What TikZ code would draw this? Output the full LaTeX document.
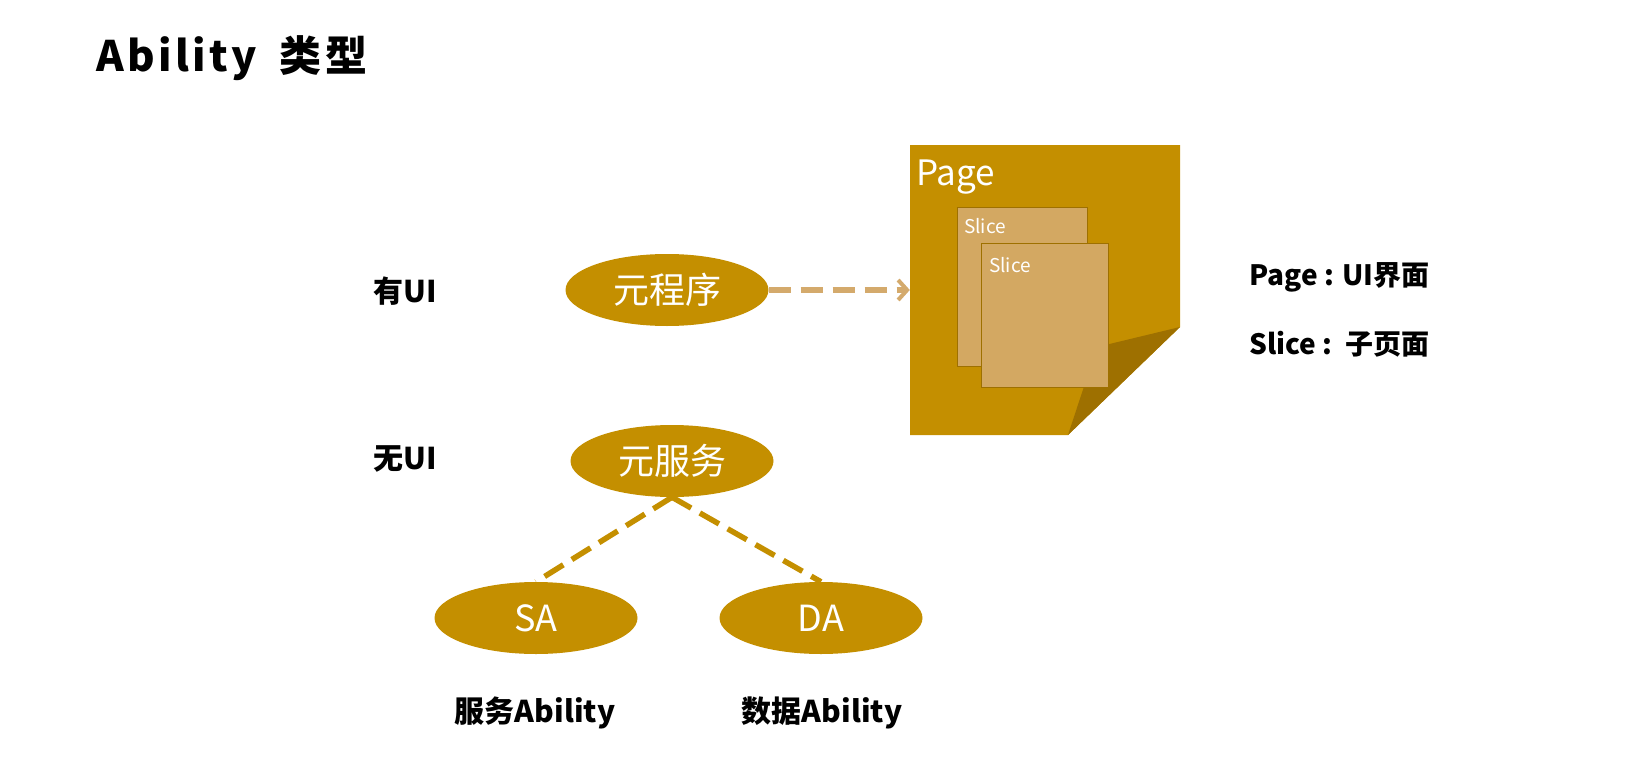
\documentclass[tikz,border=0pt]{standalone}
\usepackage{fontspec}
\setmainfont{Noto Sans CJK SC}
\newfontfamily\titlefont{Noto Sans CJK SC}[LetterSpace=8]
\usetikzlibrary{shapes.geometric, arrows.meta}
\definecolor{gold}{HTML}{C48F00}
\definecolor{goldDark}{HTML}{9E7000}
\definecolor{sliceFill}{HTML}{D3A862}
\definecolor{linkTan}{HTML}{D4AA6C}

\begin{document}
\begin{tikzpicture}
[x=1pt, y=-1pt,
 every node/.style={align=center, inner sep=0pt},
 nodeOval/.style={ellipse, fill=gold, text=white, minimum width=203pt,
   minimum height=72pt, font=\fontsize{36}{40}\selectfont},
 nodeSlice/.style={draw=goldDark, line width=1pt, fill=sliceFill},
 nodeLabel/.style={font=\bfseries\fontsize{30}{34}\selectfont},
 nodeInfo/.style={anchor=west, font=\bfseries\fontsize{28}{32}\selectfont},
 linkDash/.style={line width=5.5pt, dash pattern=on 22pt off 10pt}
]
\useasboundingbox (0,0) rectangle (1651,773);
\node[anchor=west, font=\titlefont\bfseries\fontsize{42}{46}\selectfont]
  (title) at (96, 58) {Ability\hspace{10pt} 类型};
% page with folded corner
\fill[gold] (910,145) -- (1180,145) -- (1180,327) -- (1068,435)
  -- (910,435) -- cycle;
\fill[goldDark] (1180,327) -- (1097,347) -- (1068,435) -- cycle;
\node (page) at (1045,290) [minimum width=270pt, minimum height=290pt] {};
\node[anchor=base west, text=white, font=\fontsize{35}{38}\selectfont]
  (pageText) at (916,185) {Page};
\draw[nodeSlice] (957,207) rectangle (1087,366);
\node[anchor=base west, text=white, font=\fontsize{19}{22}\selectfont]
  (slice1) at (964,233) {Slice};
\draw[nodeSlice] (981,243) rectangle (1108,387);
\node[anchor=base west, text=white, font=\fontsize{19}{22}\selectfont]
  (slice2) at (989,272) {Slice};
% abilities
\node[nodeOval] (FA) at (667,290) {元程序};
\node[nodeOval] (PA) at (672,461) {元服务};
\node[nodeOval] (SA) at (536,618) {SA};
\node[nodeOval] (DA) at (821,618) {DA};
\node[nodeLabel] (withUI) at (405,291) {有UI};
\node[nodeLabel] (noUI)   at (405,459) {无UI};
\node[nodeLabel] (SAtext) at (535,713) {服务Ability};
\node[nodeLabel] (DAtext) at (822,713) {数据Ability};
\node[nodeInfo] (pageInfo)  at (1249,277) {Page : UI界面};
\node[nodeInfo] (sliceInfo) at (1249,344) {Slice :\, 子页面};
\draw[linkDash, draw=linkTan, -{Straight Barb[length=9pt, width=20pt, line width=4pt]}]
  (FA) -- (page.west);
\draw[linkDash, draw=gold] (PA.south) -- (SA.north);
\draw[linkDash, draw=gold] (PA.south) -- (DA.north);
\end{tikzpicture}
\end{document}
